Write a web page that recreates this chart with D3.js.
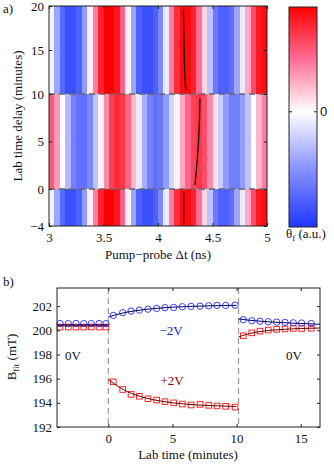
<!DOCTYPE html>
<html>
<head>
<meta charset="utf-8">
<script src="https://cdn.jsdelivr.net/npm/d3@7"></script>
<style>
body { margin: 0; background: #fff; }
text { font-family: "Liberation Serif", "Times New Roman", serif; font-size: 13px; fill: #111; }
</style>
</head>
<body>
<svg width="334" height="467"></svg>
<script>
// ---- panel a) heat map data ----
// 40 delay columns, 0.05 ns wide, starting at 3 ns
var delayStart = 3, delayStep = 0.05;
// lab time sections (minutes)
var sectionEdges = [[-4, 0], [0, 10], [10, 20]];
// normalised Faraday rotation per delay column, one profile per section
var thetaBefore = [-0.05, -0.45, -0.8, -0.95, -0.95, -0.85, -0.5, 0.05, 0.45, 0.85,
                   1.0, 1.0, 0.9, 0.55, 0.05, -0.45, -0.85, -0.95, -0.95, -0.85,
                   -0.6, -0.1, 0.45, 0.8, 0.95, 0.95, 0.85, 0.5, 0.15, -0.3,
                   -0.7, -0.85, -0.85, -0.75, -0.45, -0.1, 0.3, 0.65, 0.9, 0.95];
var thetaDuring = [0.6, 0.35, 0.0, -0.35, -0.65, -0.75, -0.75, -0.6, -0.3, 0.05,
                   0.4, 0.7, 0.8, 0.75, 0.55, 0.25, -0.1, -0.4, -0.65, -0.75,
                   -0.7, -0.5, -0.2, 0.05, 0.3, 0.55, 0.7, 0.75, 0.65, 0.4,
                   0.1, -0.25, -0.5, -0.65, -0.65, -0.5, -0.3, 0.0, 0.25, 0.45];
var thetaAfter = [-0.05, -0.45, -0.8, -0.95, -0.95, -0.85, -0.5, 0.05, 0.45, 0.85,
                  1.0, 1.0, 0.9, 0.55, 0.05, -0.45, -0.85, -0.95, -0.95, -0.85,
                  -0.6, -0.1, 0.45, 0.8, 0.95, 0.95, 0.85, 0.5, 0.15, -0.3,
                  -0.7, -0.85, -0.85, -0.75, -0.45, -0.1, 0.3, 0.65, 0.9, 0.95];
// phase marker lines [lab time, delay ns]
var markerBefore = [[-3.65, 4.236], [-0.29, 4.236]];
var markerDuring = [[0.42, 4.339], [2.11, 4.353], [4.29, 4.368], [5.93, 4.376], [9.55, 4.385]];
var markerAfter = [[10.45, 4.254], [12, 4.247], [15, 4.240], [19.55, 4.233]];
var heatXTicks = [3, 3.5, 4, 4.5, 5];
var heatYTicks = [-4, 0, 5, 10, 15, 20];

// ---- panel b) field fits ----
var tBefore = [-3.76, -3.12, -2.52, -1.92, -1.33, -0.72, -0.18];
var blueBefore = [200.56, 200.55, 200.56, 200.55, 200.55, 200.56, 200.55];
var redBefore = [200.27, 200.28, 200.27, 200.27, 200.28, 200.27, 200.27];
var tDuring = [0.39, 1.12, 1.77, 2.42, 3.09, 3.77, 4.42, 5.1, 5.77, 6.45, 7.15, 7.83, 8.47, 9.15, 9.88];
var blueDuring = [201.23, 201.46, 201.59, 201.67, 201.75, 201.81, 201.87, 201.89, 201.95, 201.98,
                  202.0, 202.03, 202.06, 202.06, 202.08];
var redDuring = [195.74, 195.1, 194.7, 194.54, 194.34, 194.23, 194.1, 194.0, 193.9, 193.82,
                 193.87, 193.79, 193.74, 193.71, 193.65];
var tAfter = [10.52, 11.18, 11.82, 12.47, 13.12, 13.77, 14.42, 15.07, 15.82];
var blueAfter = [200.88, 200.79, 200.75, 200.71, 200.68, 200.65, 200.62, 200.6, 200.56];
var redAfter = [199.55, 199.79, 199.93, 200.02, 200.08, 200.11, 200.15, 200.15, 200.17];
// fitted curves
var fitTBefore = [-4, 0];
var fitBlueBefore = [200.45, 200.45];
var fitRedBefore = [200.37, 200.37];
var fitTDuring = [0, 1, 2, 3, 4, 5, 6, 7, 8, 9, 10];
var fitBlueDuring = [201.1, 201.4, 201.6, 201.74, 201.84, 201.91, 201.96, 202.0, 202.03, 202.05, 202.07];
var fitRedDuring = [195.95, 195.2, 194.7, 194.38, 194.16, 194.0, 193.9, 193.82, 193.77, 193.73, 193.7];
var fitTAfter = [10.15, 11, 12, 13, 14, 15, 16.5];
var fitBlueAfter = [200.95, 200.83, 200.74, 200.67, 200.61, 200.56, 200.5];
var fitRedAfter = [199.45, 199.73, 199.92, 200.03, 200.1, 200.15, 200.19];
var switchTimes = [0, 10.15];
var fieldXTicks = [0, 5, 10, 15];
var fieldYTicks = [192, 194, 196, 198, 200, 202];

var svg = d3.select("svg");
var tickLen = 3;

var color = d3.scaleLinear()
    .domain([-1.1, -0.55, 0, 0.5, 1])
    .range(["rgb(30,55,255)", "rgb(135,145,255)", "#ffffff", "rgb(255,110,150)", "rgb(255,0,0)"])
    .clamp(true);

function minus(v) { return String(v).replace("-", "\u2212"); }

// ================= panel a =================
var hx = d3.scaleLinear().domain([3, 5]).range([49, 267]);
var hy = d3.scaleLinear().domain([-4, 0, 10, 20]).range([226, 189, 94, 6]);

var heat = svg.append("g");
var profiles = [thetaBefore, thetaDuring, thetaAfter];
profiles.forEach(function(prof, s) {
    var t0 = sectionEdges[s][0], t1 = sectionEdges[s][1];
    heat.selectAll(null)
        .data(prof)
        .enter()
        .append("rect")
        .attr("x", function(d, i) { return hx(delayStart + i * delayStep); })
        .attr("y", hy(t1))
        .attr("width", function(d, i) { return hx(delayStart + (i + 1) * delayStep) - hx(delayStart + i * delayStep) + 0.4; })
        .attr("height", hy(t0) - hy(t1))
        .attr("fill", function(d) { return color(d); })
        .attr("shape-rendering", "crispEdges");
});

// section dividers
[0, 10].forEach(function(t) {
    svg.append("line")
        .attr("x1", hx(3)).attr("x2", hx(5))
        .attr("y1", hy(t)).attr("y2", hy(t))
        .attr("stroke", "#666").attr("stroke-width", 1.4)
        .attr("stroke-dasharray", "6,4");
});

var markerLine = d3.line()
    .x(function(d) { return hx(d[1]); })
    .y(function(d) { return hy(d[0]); })
    .curve(d3.curveMonotoneY);
[markerBefore, markerDuring, markerAfter].forEach(function(m) {
    svg.append("path")
        .attr("d", markerLine(m))
        .attr("fill", "none")
        .attr("stroke", "#111")
        .attr("stroke-width", 1.3);
});

// axes with inward ticks on all sides
function boxAxes(xs, ys, xTicks, yTicks, xfmt, yfmt) {
    var x0 = xs.range()[0], x1 = xs.range()[xs.range().length - 1];
    var yr = ys.range();
    var y0 = d3.max(yr), y1 = d3.min(yr);
    svg.append("g")
        .attr("transform", "translate(0," + y0 + ")")
        .call(d3.axisBottom(xs).tickValues(xTicks).tickSize(-tickLen).tickPadding(7).tickFormat(xfmt))
        .call(function(g) { g.select(".domain").remove(); });
    svg.append("g")
        .attr("transform", "translate(0," + y1 + ")")
        .call(d3.axisTop(xs).tickValues(xTicks).tickSize(-tickLen).tickFormat(""))
        .call(function(g) { g.select(".domain").remove(); });
    svg.append("g")
        .attr("transform", "translate(" + x0 + ",0)")
        .call(d3.axisLeft(ys).tickValues(yTicks).tickSize(-tickLen).tickPadding(5).tickFormat(yfmt))
        .call(function(g) { g.select(".domain").remove(); });
    svg.append("g")
        .attr("transform", "translate(" + x1 + ",0)")
        .call(d3.axisRight(ys).tickValues(yTicks).tickSize(-tickLen).tickFormat(""))
        .call(function(g) { g.select(".domain").remove(); });
    svg.selectAll(".tick line").attr("stroke", "#222");
    svg.selectAll(".tick text")
        .style("font-family", "'Liberation Serif', serif")
        .style("font-size", "13px")
        .attr("fill", "#111");
    svg.append("rect")
        .attr("x", x0).attr("y", y1)
        .attr("width", x1 - x0).attr("height", y0 - y1)
        .attr("fill", "none").attr("stroke", "#222").attr("stroke-width", 1);
}

boxAxes(hx, hy, heatXTicks, heatYTicks, function(d) { return String(d); }, minus);

svg.append("text")
    .attr("transform", "translate(22,116) rotate(-90)")
    .attr("text-anchor", "middle")
    .text("Lab time delay (minutes)");
svg.append("text")
    .attr("x", 158).attr("y", 259)
    .attr("text-anchor", "middle")
    .text("Pump\u2212probe \u0394t (ns)");
svg.append("text").attr("x", 3).attr("y", 13).text("a)");

// colour bar
var cy = d3.scaleLinear().domain([-1.1, 1.0]).range([227, 7]);
var grad = svg.append("defs").append("linearGradient")
    .attr("id", "cbar")
    .attr("x1", 0).attr("x2", 0).attr("y1", 1).attr("y2", 0);
grad.selectAll("stop")
    .data(color.domain())
    .enter()
    .append("stop")
    .attr("offset", function(d) { return (d + 1.1) / 2.1; })
    .attr("stop-color", function(d) { return color(d); });
svg.append("rect")
    .attr("x", 289).attr("y", cy(1.0))
    .attr("width", 28).attr("height", cy(-1.1) - cy(1.0))
    .attr("fill", "url(#cbar)")
    .attr("stroke", "#222");
svg.append("line").attr("x1", 289).attr("x2", 289 + tickLen)
    .attr("y1", cy(0)).attr("y2", cy(0)).attr("stroke", "#222");
svg.append("line").attr("x1", 317 - tickLen).attr("x2", 317)
    .attr("y1", cy(0)).attr("y2", cy(0)).attr("stroke", "#222");
svg.append("text")
    .attr("x", 320).attr("y", cy(0) + 4.7)
    .style("font-family", "'Liberation Sans', Arial, sans-serif")
    .text("0");
var cl = svg.append("text").attr("x", 306).attr("y", 238).attr("text-anchor", "middle");
cl.append("tspan").text("\u03b8");
cl.append("tspan").attr("dy", 3).style("font-size", "9px").text("f");
cl.append("tspan").attr("dy", -3).text(" (a.u.)");

// ================= panel b =================
var bx = d3.scaleLinear().domain([-4, 16.5]).range([57, 320]);
var by = d3.scaleLinear().domain([192, 203.5]).range([427, 288]);

switchTimes.forEach(function(t) {
    svg.append("line")
        .attr("x1", bx(t)).attr("x2", bx(t))
        .attr("y1", by(203.5)).attr("y2", by(192))
        .attr("stroke", "#999").attr("stroke-width", 1.2)
        .attr("stroke-dasharray", "6,4");
});

var fitLine = d3.line()
    .x(function(d) { return bx(d[0]); })
    .y(function(d) { return by(d[1]); })
    .curve(d3.curveMonotoneX);
function drawFit(ts, vs, col) {
    svg.append("path")
        .attr("d", fitLine(ts.map(function(t, i) { return [t, vs[i]]; })))
        .attr("fill", "none").attr("stroke", col).attr("stroke-width", 1);
}
function drawCircles(ts, vs) {
    svg.selectAll(null)
        .data(ts)
        .enter()
        .append("circle")
        .attr("cx", function(d) { return bx(d); })
        .attr("cy", function(d, i) { return by(vs[i]); })
        .attr("r", 3.2)
        .attr("fill", "none").attr("stroke", "rgb(60,60,255)").attr("stroke-width", 1);
}
function drawSquares(ts, vs) {
    svg.selectAll(null)
        .data(ts)
        .enter()
        .append("rect")
        .attr("x", function(d) { return bx(d) - 2.8; })
        .attr("y", function(d, i) { return by(vs[i]) - 2.8; })
        .attr("width", 5.6).attr("height", 5.6)
        .attr("fill", "none").attr("stroke", "rgb(255,40,40)").attr("stroke-width", 1);
}

drawSquares(tBefore, redBefore);
drawCircles(tBefore, blueBefore);
drawSquares(tDuring, redDuring);
drawCircles(tDuring, blueDuring);
drawSquares(tAfter, redAfter);
drawCircles(tAfter, blueAfter);

drawFit(fitTBefore, fitRedBefore, "#6b0000");
drawFit(fitTBefore, fitBlueBefore, "#000070");
drawFit(fitTDuring, fitRedDuring, "#6b0000");
drawFit(fitTDuring, fitBlueDuring, "#000070");
drawFit(fitTAfter, fitRedAfter, "#6b0000");
drawFit(fitTAfter, fitBlueAfter, "#000070");

boxAxes(bx, by, fieldXTicks, fieldYTicks, function(d) { return String(d); }, function(d) { return String(d); });

svg.append("text").attr("x", 65).attr("y", 360).text("0V");
svg.append("text").attr("x", 286).attr("y", 360).text("0V");
svg.append("text").attr("x", 171).attr("y", 334.5).attr("text-anchor", "middle")
    .style("fill", "rgb(25,25,210)").text("\u22122V");
svg.append("text").attr("x", 172).attr("y", 384.5).attr("text-anchor", "middle")
    .style("fill", "rgb(140,0,0)").text("+2V");

var bl = svg.append("text")
    .attr("transform", "translate(16,357) rotate(-90)")
    .attr("text-anchor", "middle");
bl.append("tspan").text("B");
bl.append("tspan").attr("dy", 3).style("font-size", "9px").text("fit");
bl.append("tspan").attr("dy", -3).text(" (mT)");
svg.append("text")
    .attr("x", 188).attr("y", 459)
    .attr("text-anchor", "middle")
    .text("Lab time (minutes)");
svg.append("text").attr("x", 3).attr("y", 286).text("b)");
</script>
</body>
</html>
